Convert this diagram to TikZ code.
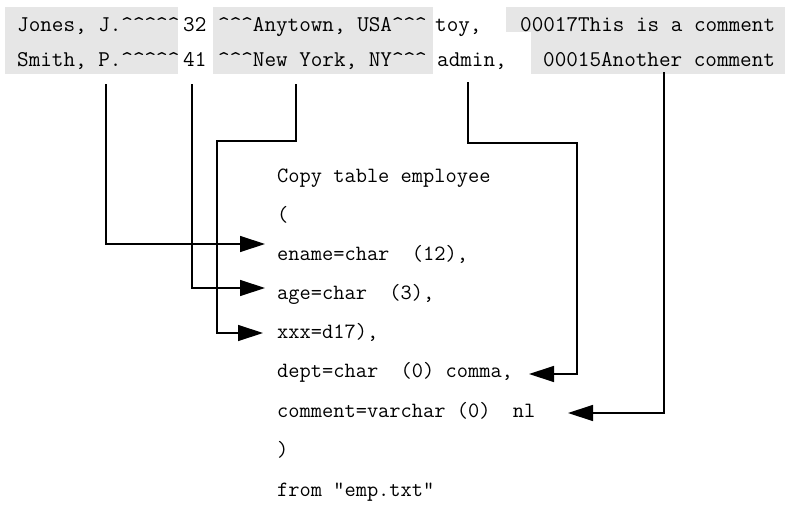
\documentclass[tikz,border=0pt]{standalone}
\usepackage{fontspec}
\usetikzlibrary{arrows.meta}
\definecolor{fieldgray}{RGB}{230,230,230}
\newcommand{\crt}{\textasciicircum}

\begin{document}
\begin{tikzpicture}[x=1pt,y=-1pt,
      every node/.style={inner sep=0pt,anchor=base west,
                         font=\ttfamily\fontsize{22.5}{24}\selectfont},
      codeline/.style={font=\ttfamily\fontsize{21.8}{24}\selectfont},
      single/.style={draw,line width=1.3pt,-{Triangle[length=25pt,width=16pt]}},
    ]
      \useasboundingbox (0,0) rectangle (785,506);
      % shaded fields
      \fill[fieldgray] (5,7) rectangle (178,74);
      \fill[fieldgray] (213,7) rectangle (433,74);
      \fill[fieldgray] (506,7) rectangle (785,32);
      \fill[fieldgray] (531,32) rectangle (785,74);
      % the two records
      \node (jones) at (17,31) {Jones, J.\crt\crt\crt\crt\crt};
      \node (age1) at (183,31) {32};
      \node (town1) at (218,31) {\crt\crt\crt Anytown, USA\crt\crt\crt};
      \node (role1) at (435,31) {toy,};
      \node (note1) at (520,31) {00017This is a comment};
      \node (smith) at (17,66) {Smith, P.\crt\crt\crt\crt\crt};
      \node (age2) at (183,66) {41};
      \node (town2) at (218,66) {\crt\crt\crt New York, NY\crt\crt\crt};
      \node (role2) at (437,66) {admin,};
      \node (note2) at (543,66) {00015Another comment};
      % control file
      \node[codeline] (copy) at (277,182) {Copy table employee};
      \node[codeline] (open) at (277,221) {(};
      \node[codeline] (ename) at (277,260) {ename=char~~(12),};
      \node[codeline] (agedef) at (277,299) {age=char~~(3),};
      \node[codeline] (xxx) at (277,338) {xxx=d17),};
      \node[codeline] (dept) at (277,377) {dept=char~~(0) comma,};
      \node[codeline] (comment) at (277,417) {comment=varchar (0)~~nl};
      \node[codeline] (close) at (277,456) {)};
      \node[codeline] (from) at (277,496) {from "emp.txt"};
      % taps, bends and tips
      \coordinate (nametap) at (106,84);
      \coordinate (agetap) at (192,84);
      \coordinate (towntap) at (296,84);
      \coordinate (roletap) at (468,82);
      \coordinate (notetap) at (664,72);
      \coordinate (townbend) at (217,141);
      \coordinate (rolebend) at (577,143);
      \coordinate (enametip) at (265,244);
      \coordinate (agetip) at (265,288);
      \coordinate (xxxtip) at (263,333);
      \coordinate (depttip) at (529,374);
      \coordinate (commenttip) at (568,413);
      \draw[single] (nametap) |- (enametip);
      \draw[single] (agetap) |- (agetip);
      \draw[single] (towntap) |- (townbend) |- (xxxtip);
      \draw[single] (roletap) |- (rolebend) |- (depttip);
      \draw[single] (notetap) |- (commenttip);
    \end{tikzpicture}
\end{document}
